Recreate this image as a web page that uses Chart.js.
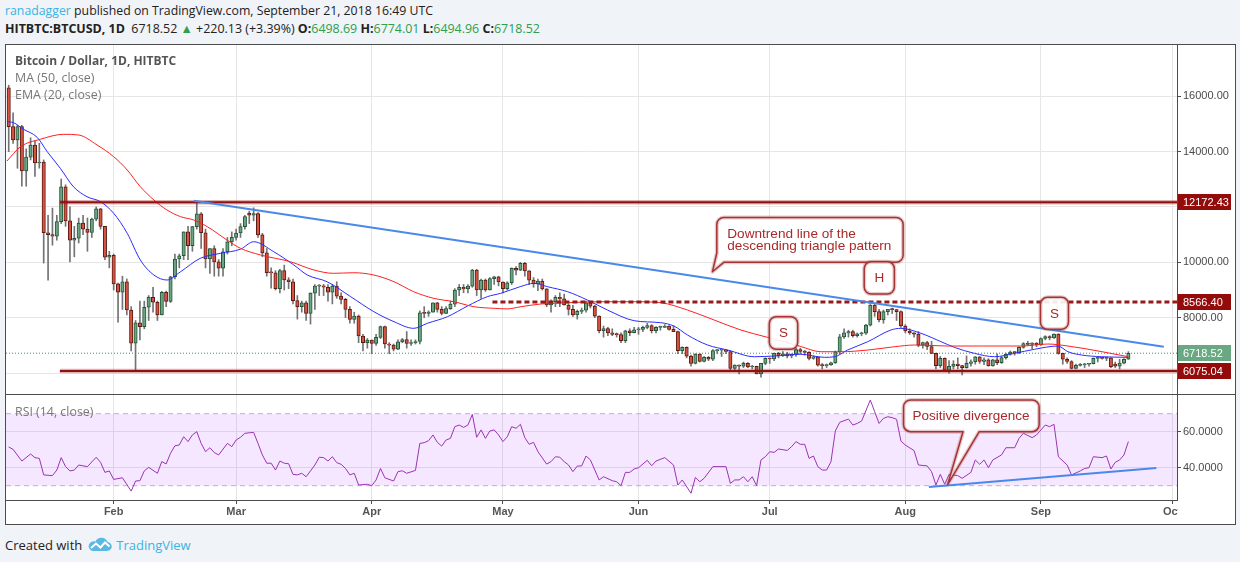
<!DOCTYPE html>
<html><head><meta charset="utf-8">
<script src="https://cdn.jsdelivr.net/npm/chart.js@4.4.1/dist/chart.umd.min.js"></script>
<style>
html,body{margin:0;padding:0;}
body{width:1240px;height:562px;background:#f0f3f7;position:relative;overflow:hidden;font-family:'Open Sans',sans-serif;}
.hdr{position:absolute;left:5px;white-space:nowrap;font-size:12.3px;color:#222;line-height:18px;}
#h1{top:2px;}
#h2{top:20px;font-size:12.45px;}
.blue{color:#3bb3e4;}
.grn{color:#2e9e4f;}
#frame{position:absolute;left:5px;top:44px;width:1229px;height:479px;border:1px solid #4c4c4c;background:#fff;}
#c1{position:absolute;left:6px;top:45px;}
#sep{position:absolute;left:6px;top:394px;width:1229px;height:1px;background:#4c4c4c;}
#c2{position:absolute;left:6px;top:395px;}
.leg{position:absolute;left:15px;font-size:12.4px;color:#777;white-space:nowrap;line-height:17px;}
#footer{position:absolute;left:5px;top:536px;font-size:13px;color:#222;white-space:nowrap;line-height:18px;}
#footer svg{vertical-align:-2px;margin:0 4px 0 6px;}
</style>
</head>
<body>
<div class="hdr" id="h1"><span class="blue">ranadagger</span> published on TradingView.com, September 21, 2018 16:49 UTC</div>
<div class="hdr" id="h2"><b>HITBTC:BTCUSD, 1D</b>&nbsp; 6718.52 <span class="grn">&#9650;</span> +220.13 (+3.39%) <b>O:</b><span class="grn">6498.69</span> <b>H:</b><span class="grn">6774.01</span> <b>L:</b><span class="grn">6494.96</span> <b>C:</b><span class="grn">6718.52</span></div>
<div id="frame"></div>
<canvas id="c1" width="1229" height="349"></canvas>
<div id="sep"></div>
<canvas id="c2" width="1229" height="128"></canvas>
<div class="leg" style="top:52px;font-weight:bold;color:#555;font-size:12px;">Bitcoin / Dollar, 1D, HITBTC</div>
<div class="leg" style="top:69px;">MA (50, close)</div>
<div class="leg" style="top:86px;">EMA (20, close)</div>
<div class="leg" style="top:403px;">RSI (14, close)</div>
<div id="footer">Created with<svg width="24" height="15" viewBox="0 0 24 15"><path d="M4 14 H19 A4.5 4.5 0 0 0 19.5 5 A6.5 6.5 0 0 0 7.5 4.5 A4.8 4.8 0 0 0 4 14 Z" fill="#5ab8e6"/><polyline points="3,11 8,6.5 12.5,10.5 17,5.5 21.5,9.5" stroke="#fff" stroke-width="2" fill="none"/></svg><span class="blue">TradingView</span></div>
<script>
// ---------------- DATA ----------------
const FIRST_DAY = 7; // day index of first candle (Jan 1 2018 = 0) -> Jan 8
const monthTickDays = [31,59,90,120,151,181,212,243,273];
const monthLabels = ['Feb','Mar','Apr','May','Jun','Jul','Aug','Sep','Oct'];
const priceTicks = [6000,8000,10000,12000,14000,16000];
const rsiTicks = [40,60];

const openP = [16300,14900,14420,14900,13300,13800,14240,
13590,13620,11070,11000,10950,11470,12730,
11500,10800,10870,11420,11200,11080,11560,
11930,11300,10190,10250,9220,8920,9300,
8280,7080,7820,7680,8380,8740,8560,
8100,8920,8590,9480,10120,10240,11100,
10600,11290,11750,11070,10120,10500,10020,
9790,10380,10740,10900,11060,11290,11780,
11700,11760,10990,10340,9630,9620,9050,
9700,9365,9300,8615,8400,8540,8160,
8890,9140,9150,9100,8920,9140,8780,
8660,8300,7940,8060,7340,7100,7190,
7070,7290,7680,7050,7010,6860,7130,
7210,7070,7100,7140,8180,8160,8200,
8540,8300,8160,8330,8490,9000,9100,
9040,9140,9720,9000,9360,9000,9410,
9480,9290,9050,9265,9785,9720,9965,
9690,9360,9220,9320,9040,8460,8580,
8740,8680,8460,8300,8100,8230,8270,
8540,8420,8060,7530,7610,7450,7400,
7390,7170,7530,7460,7560,7580,7650,
7720,7530,7650,7650,7700,7580,7500,
6810,6930,6615,6350,6690,6420,6570,
6500,6810,6830,6840,6780,6170,6290,
6250,6350,6220,6240,5970,6350,6530,
6510,6710,6620,6700,6620,6680,6850,
6780,6750,6530,6590,6290,6270,6300,
6370,6770,7310,7450,7500,7350,7420,
7440,7735,8460,8220,7920,8220,8300,
8290,8220,7700,7520,7450,7410,7010,
7100,6960,6710,6270,6530,6110,6240,
6330,6270,6200,6350,6410,6590,6420,
6480,6260,6480,6380,6560,6690,6760,
6740,6930,7070,7040,7080,7020,7250,
7320,7270,7410,6710,6500,6420,6170,
6280,6300,6320,6340,6530,6560,6530,
6550,6330,6250,6360,6498.69];

const highP = [16400,15400,14950,14950,14100,14500,14400,
14300,13700,11700,11960,11700,13010,12800,
12010,11300,11600,11700,11600,11600,12000,
11950,11300,10400,10300,9250,9500,9400,
8400,7900,8600,8600,8800,9100,8600,
8950,8960,9500,10300,10300,11100,11300,
11300,12200,11800,11200,10500,10600,10100,
10500,10900,11100,11200,11400,11700,11850,
11970,11800,11050,10500,9800,9700,9750,
9900,9450,9400,8800,8600,8600,8900,
9200,9200,9200,9200,9200,9300,8900,
8700,8400,8200,8100,7400,7250,7200,
7400,7700,7700,7100,7050,7200,7250,
7500,7200,7200,8250,8400,8250,8540,
8560,8400,8400,8600,9050,9200,9200,
9200,9750,9750,9400,9400,9450,9500,
9500,9300,9300,9800,9850,10000,10000,
9700,9450,9400,9400,9050,8650,8800,
8900,8850,8500,8450,8280,8350,8600,
8600,8450,8070,7700,7650,7600,7450,
7450,7550,7600,7650,7650,7700,7800,
7750,7680,7700,7750,7720,7700,7520,
6950,6950,6650,6700,6700,6600,6600,
6850,6850,6850,6850,6790,6300,6300,
6400,6380,6280,6250,6350,6550,6550,
6720,6750,6780,6750,6700,6900,6900,
6820,6780,6620,6600,6350,6330,6400,
6800,7400,7600,7550,7550,7450,7480,
7760,8480,8500,8300,8280,8300,8350,
8300,8250,7750,7600,7460,7500,7120,
7150,7150,6720,6600,6550,6450,6450,
6550,6280,6620,6480,6600,6600,6550,
6520,6500,6700,6600,6720,6800,6780,
6950,7100,7150,7100,7100,7270,7350,
7350,7420,7420,6720,6550,6450,6330,
6350,6350,6350,6550,6600,6580,6580,
6560,6400,6500,6520,6774.01];

const lowP = [14000,14300,13400,12750,12750,13700,13100,
13400,9975,9360,10620,10800,11400,11300,
10020,10200,10700,11000,10400,10900,11500,
11200,10100,9800,9000,7840,8300,8100,
6800,6075,7200,7600,7900,8200,7900,
8100,8400,8550,9400,9800,10100,10100,
10400,11200,10500,9800,9600,9500,9500,
9500,10300,10600,10800,10900,11200,11400,
11500,10900,10200,9500,9070,9000,8900,
9000,9050,8500,7950,8200,7900,7770,
8300,8800,8800,8600,8500,8700,8500,
8000,7800,7800,7100,6800,6900,6700,
7000,7250,6900,6700,6800,6850,7100,
6900,7000,7050,7050,8000,8050,8200,
8200,8100,8150,8300,8400,8800,8900,
8900,9100,8800,8700,8950,9000,9200,
9150,8900,9000,9200,9550,9700,9500,
9200,9100,8980,9000,8400,8200,8400,
8400,8450,8100,8050,7950,8150,8200,
8350,8000,7450,7300,7350,7350,7300,
7100,7100,7350,7450,7400,7500,7600,
7450,7450,7550,7650,7550,7500,6700,
6700,6550,6250,6330,6400,6400,6450,
6450,6700,6600,6700,6100,6100,5970,
6200,6200,6150,5970,5850,6300,6350,
6450,6550,6600,6550,6550,6600,6700,
6650,6480,6500,6250,6150,6200,6280,
6350,6700,7250,7300,7300,7300,7350,
7400,7700,8050,7850,7800,8100,8150,
7900,7650,7450,7400,7300,6950,6900,
6850,6700,6150,6200,6050,6000,6150,
6150,5930,6180,6250,6320,6350,6300,
6250,6250,6300,6350,6500,6650,6650,
6700,6900,7000,6880,6950,7000,7200,
7200,7250,6680,6320,6350,6150,6150,
6250,6200,6250,6330,6400,6500,6450,
6200,6200,6150,6330,6494.96];

const closeP = [14900,14420,14900,13300,13800,14240,13590,
13620,11070,11000,10950,11470,12730,11500,
10800,10870,11420,11200,11080,11560,11930,
11300,10190,10250,9220,8920,9300,8280,
7080,7820,7680,8380,8740,8560,8100,
8920,8590,9480,10120,10240,11100,10600,
11290,11750,11070,10120,10500,10020,9790,
10380,10740,10900,11060,11290,11650,11700,
11760,10990,10340,9630,9620,9050,9700,
9365,9300,8615,8400,8540,8160,8890,
9140,9150,9100,8920,9140,8780,8660,
8300,7940,8060,7340,7100,7190,7070,
7290,7680,7050,7010,6860,7130,7210,
7070,7100,7140,8180,8160,8200,8540,
8300,8160,8330,8490,9000,9100,9040,
9140,9720,9000,9360,9000,9410,9480,
9290,9050,9265,9785,9720,9965,9690,
9360,9220,9320,9040,8460,8580,8740,
8680,8460,8300,8100,8230,8270,8540,
8420,8060,7530,7610,7450,7400,7390,
7170,7530,7460,7560,7580,7650,7720,
7530,7650,7650,7700,7580,7500,6810,
6930,6615,6350,6690,6420,6570,6500,
6810,6830,6840,6780,6170,6290,6250,
6350,6220,6240,5970,6350,6530,6510,
6710,6620,6700,6620,6680,6850,6780,
6750,6530,6590,6290,6270,6300,6370,
6770,7310,7450,7500,7350,7420,7440,
7735,8460,8220,7920,8220,8300,8290,
8220,7700,7520,7450,7410,7010,7100,
6960,6710,6270,6530,6110,6240,6330,
6270,6200,6350,6410,6590,6420,6480,
6260,6480,6380,6560,6690,6760,6740,
6930,7070,7040,7080,7020,7250,7320,
7270,7410,6710,6500,6420,6170,6280,
6300,6320,6340,6530,6560,6530,6550,
6230,6250,6360,6500,6718.52];

// MA(50) (day index, price)
const maDays = [6.6,9.7,14.2,19.6,23,27.2,31,34.1,37.1,40.2,
43.2,46.3,49.3,52.4,56.9,60,64.6,71.4,76.8,81.3,
85.9,90.5,95.1,99.6,104.2,108.8,113.4,118,121,124.1,
128.6,134.8,142.4,150,156.1,162.2,168.3,174.4,180.5,185.1,
188.1,192.7,197.3,203.4,209.5,214.1,221.7,229.6,238.5,244.6,
249.2,257,263];
const maVals = [13660,14177,14444,14625,14600,14240,13816,13335,12732,12252,
11890,11650,11530,11290,10807,10507,10265,10023,9723,9604,
9625,9542,9300,8939,8700,8578,8397,8340,8320,8397,
8495,8542,8578,8578,8542,8278,7917,7556,7292,7097,
6960,6772,6772,6833,6952,7014,6978,6978,6978,7050,
6978,6772,6591];

// EMA(20)
const emaDays = [6.6,8.1,10.4,13.5,15.8,18.8,21.8,24.9,28,31,
34.1,37.1,40.2,43.2,46.3,50.8,55.4,60,63,67.6,
72.2,75.3,79.8,85.2,90.5,95.1,99.6,102.7,107.3,111.9,
116.4,119.5,124.1,127.1,130.2,134.8,139.3,143.9,150,156.1,
159.1,162.2,166.8,171.4,177.5,182,188.1,193.5,195.8,198.8,
203.4,208.7,211,215.6,220.2,223.2,227.8,232.4,237,241.5,
246.9,249.2,252.3,256.9,263];
const emaVals = [15080,15044,14805,14516,14000,13397,12732,12371,12190,11771,
11049,10084,9542,9362,9662,10146,10326,10476,10745,10384,
9904,9542,9300,8759,8217,7856,7617,7798,8036,8423,
8759,8881,9130,9242,9120,8939,8640,8278,7892,7820,
7700,7375,7014,6833,6591,6616,6680,6570,6591,6833,
7133,7556,7617,7436,7133,6931,6714,6591,6714,6859,
6978,6772,6653,6591,6570];

// RSI(14)
const rsiDays = [7,8,10,12,13,14,15,17,18,19,
20,21,22,23,25,27,28,29,30,31,
33,35,36,37,38,39,41,42,43,44,
45,46,47,48,49,50,51,52,53,54,
55,57,58,59,60,61,62,63,64,65,
66,67,68,69,70,71,72,73,74,75,
76,77,78,79,80,81,82,83,84,85,
86,87,89,90,91,92,93,95,96,97,
98,100,101,102,103,104,105,106,107,108,
109,110,111,112,113,114,115,116,117,118,
119,120,121,122,123,124,125,126,127,128,
130,131,132,133,134,135,136,137,138,139,
140,142,143,145,146,147,148,149,150,151,
153,154,155,157,159,160,161,163,164,165,
166,168,171,172,173,174,175,176,177,178,
179,180,181,182,183,185,186,187,188,189,
190,191,192,193,194,195,196,197,199,200,
201,202,204,205,206,207,208,209,210,211,
212,214,215,217,218,219,220,221,222,224,
225,227,228,229,230,231,232,234,235,237,
238,239,241,242,244,245,246,247,249,250,
252,253,254,255,257,258,259,260,261,262,
263];
const rsiVals = [51.5,50.2,43.7,47.6,45.6,45.2,36,35.6,38.7,45.6,
40.6,38.2,38.7,41.5,40.6,45.8,43,37.4,38.2,33.5,
34.4,27,32.6,32.8,38.2,40.2,36.9,43.4,42.1,48,
52.2,52.6,57.2,54.5,58.2,60,53.5,48.9,51.1,48.4,
47.1,53.5,51.7,55.4,56.9,59.1,59.4,59.6,53.5,47.1,
42.5,42.5,38.7,43.7,42.5,42.2,36.3,36,36.9,35,
38.2,41.5,45.8,45.6,43.7,46.1,42.8,41.9,39.6,36,
36.9,30.4,30.8,30,33.2,39.6,34.4,32.6,37.8,38.3,
36.9,38.5,53.5,53.9,55,58.2,54.1,52,55.4,56.3,
62.8,63.7,62.4,63.7,69.6,56.9,61,56.3,60.4,61,
58.2,54.5,57.2,62.8,61.9,64.1,56.7,53,54.1,48.9,
42,43.4,46.1,45.8,43.4,41.5,37.8,40.9,41,46.5,
44.3,33.2,35,32.8,32.2,30,37.4,37.4,39.3,40,
44.1,41.1,43.7,45.6,41.5,30.4,33.2,25.8,34.6,32.2,
34.1,40.6,40.6,31.3,33.2,33.2,35,32.2,35,30,
44.3,46.1,48.9,48.5,50.4,49.6,51.7,54.5,53,53,
45.2,46.5,40.6,38.7,38.7,43.3,60.4,65.2,67,63.7,
64.6,65.9,77.6,71.1,64.6,67.4,68.3,67.8,66.9,54.8,
52.6,49.5,41.5,41,37.8,30.4,36.3,30.8,36.3,35.6,
34.1,37.4,44.3,41.9,44.3,40,44.3,47.1,51.1,51.1,
56.3,59.1,56.7,58.2,63.7,62.8,64.1,46.1,41.5,36,
38.2,39.6,40,46.1,45.6,46.5,39.3,43,44.3,47.1,
54.5];

const resistanceLevel = 12172.43;
const necklineLevel = 8566.40;
const supportLevel = 6075.04;
const lastPrice = 6718.52;
const rsiUpper = 70, rsiLower = 30;

// ---------------- LAYOUT / STYLE ----------------
const X_MIN = 6.38, X_MAX = 274.12;
const AXIS_W = 58;
const GRID = '#e6e6e6';
const FRAME = '#4c4c4c';
const UP_FILL = '#6ba583', UP_BORDER = '#225437', DN_FILL = '#d75442', DN_BORDER = '#5b1a13', WICK = '#737375';
const LEVEL_RED = '#8e1212';
const TREND_BLUE = '#4a89ea';
const NOTE_RED = '#a82a2a';
Chart.defaults.font.family = '"Liberation Sans", Arial, sans-serif';

const levelStartDay = 18.7;
const necklineStartDay = 117.6;
const trendLine = [{x:49.3, y:12226}, {x:271.1, y:6952}];
const rsiTrendLine = [{x:217.4, y:29.3}, {x:269.4, y:39.8}];

const priceNotes = [
  {lines:['Downtrend line of the','descending triangle pattern'], x0:168.9, x1:211.5, y0:11620, y1:10000, size:13.6, align:'left', padX:10.5, lh:11.5,
   wedge:{type:'corner', edgeY:10337, baseX:170.5, tip:[167.9, 9662]}},
  {lines:['H'], x0:202.6, x1:209.5, y0:10023, y1:8856, size:13.5},
  {lines:['S'], x0:180.9, x1:187.4, y0:8036, y1:6858, size:13.5},
  {lines:['S'], x0:242.9, x1:249.3, y0:8737, y1:7581, size:13.5}
];
const rsiNotes = [
  {lines:['Positive divergence'], x0:211.6, x1:242.6, y0:77.6, y1:60, size:13.5, align:'left', padX:9,
   wedge:{type:'bottom', bx0:225.2, bx1:228.9, tip:[221.7, 30.8]}}
];
const priceBadges = [
  {v:resistanceLevel, bg:'#940b0b'},
  {v:necklineLevel, bg:'#940b0b'},
  {v:lastPrice, bg:'#6aa783'},
  {v:supportLevel, bg:'#940b0b'}
];

// ---------------- HELPERS ----------------
function fixY(s){ s.width = AXIS_W; s.paddingTop = 0; s.paddingBottom = 0; s.paddingLeft = 0; s.paddingRight = 0; }
function fixX(h){ return s => { s.height = h; s.paddingLeft = 0; s.paddingRight = 0; s.paddingTop = 0; s.paddingBottom = 0; }; }
function lineDS(points, color, width, extra){
  return Object.assign({type:'line', data:points, borderColor:color, borderWidth:width, pointRadius:0, pointHoverRadius:0, fill:false, tension:0, order:0}, extra || {});
}
function hLine(day0, value){ return [{x:day0, y:value}, {x:X_MAX, y:value}]; }

function drawNotes(chart, notes){
  const ctx = chart.ctx, xs = chart.scales.x, ys = chart.scales.y;
  notes.forEach(n => {
    const x0 = xs.getPixelForValue(n.x0), x1 = xs.getPixelForValue(n.x1);
    const y0 = ys.getPixelForValue(n.y0), y1 = ys.getPixelForValue(n.y1);
    const r = 7;
    ctx.save();
    ctx.beginPath();
    ctx.moveTo(x0 + r, y0);
    ctx.arcTo(x1, y0, x1, y1, r);
    if (n.wedge && n.wedge.type === 'bottom') {
      const w = n.wedge;
      ctx.arcTo(x1, y1, x0, y1, r);
      ctx.lineTo(xs.getPixelForValue(w.bx1), y1);
      ctx.lineTo(xs.getPixelForValue(w.tip[0]), ys.getPixelForValue(w.tip[1]));
      ctx.lineTo(xs.getPixelForValue(w.bx0), y1);
      ctx.arcTo(x0, y1, x0, y0, r);
      ctx.arcTo(x0, y0, x1, y0, r);
    } else if (n.wedge && n.wedge.type === 'corner') {
      const w = n.wedge;
      ctx.arcTo(x1, y1, x0, y1, r);
      ctx.lineTo(xs.getPixelForValue(w.baseX), y1);
      ctx.lineTo(xs.getPixelForValue(w.tip[0]), ys.getPixelForValue(w.tip[1]));
      ctx.lineTo(x0, ys.getPixelForValue(w.edgeY));
      ctx.arcTo(x0, y0, x1, y0, r);
    } else {
      ctx.arcTo(x1, y1, x0, y1, r);
      ctx.arcTo(x0, y1, x0, y0, r);
      ctx.arcTo(x0, y0, x1, y0, r);
    }
    ctx.closePath();
    ctx.fillStyle = 'rgba(255,255,255,0.9)';
    ctx.fill();
    ctx.lineJoin = 'round';
    ctx.lineWidth = 4;
    ctx.strokeStyle = 'rgba(165,45,45,0.25)';
    ctx.stroke();
    ctx.lineWidth = 1.5;
    ctx.strokeStyle = '#a33434';
    ctx.stroke();
    ctx.fillStyle = NOTE_RED;
    ctx.font = n.size + 'px "Liberation Sans", Arial, sans-serif';
    ctx.textBaseline = 'middle';
    const left = n.align === 'left';
    ctx.textAlign = left ? 'left' : 'center';
    const tx = left ? x0 + n.padX : (x0 + x1) / 2;
    const cy = (y0 + y1) / 2, lh = n.lh || 13;
    n.lines.forEach((t, i) => ctx.fillText(t, tx, cy + 0.5 + (i - (n.lines.length - 1) / 2) * lh));
    ctx.restore();
  });
}

// ---------------- PRICE PANE ----------------
const candleDays = openP.map((_, i) => FIRST_DAY + i);
const wickData = candleDays.map((d, i) => ({x:d, y:[lowP[i], highP[i]]}));
const bodyData = candleDays.map((d, i) => ({x:d, y:[openP[i], closeP[i]]}));
const maData = maDays.map((d, i) => ({x:d, y:maVals[i]}));
const emaData = emaDays.map((d, i) => ({x:d, y:emaVals[i]}));
const isUp = c => c.raw && c.raw.y[1] >= c.raw.y[0];

new Chart(document.getElementById('c1'), {
  type:'bar',
  data:{datasets:[
    {type:'bar', label:'wick', data:wickData, grouped:false, barThickness:1, backgroundColor:WICK, borderWidth:0, order:5},
    {type:'bar', label:'body', data:bodyData, grouped:false, barThickness:3.4, borderWidth:1, borderSkipped:false, minBarLength:1,
     backgroundColor: c => isUp(c) ? UP_FILL : DN_FILL, borderColor: c => isUp(c) ? UP_BORDER : DN_BORDER, order:4},
    lineDS(hLine(X_MIN, lastPrice), '#3f8a5c', 1, {borderDash:[1,2], order:6}),
    lineDS(maData, '#ff2020', 1, {order:3, cubicInterpolationMode:'monotone'}),
    lineDS(emaData, '#2b2bff', 1, {order:3, cubicInterpolationMode:'monotone'}),
    lineDS(hLine(levelStartDay, resistanceLevel), 'rgba(160,30,30,0.35)', 4.5, {order:2}),
    lineDS(hLine(levelStartDay, resistanceLevel), LEVEL_RED, 2, {order:1}),
    lineDS(hLine(levelStartDay, supportLevel), 'rgba(160,30,30,0.35)', 4.5, {order:2}),
    lineDS(hLine(levelStartDay, supportLevel), LEVEL_RED, 2, {order:1}),
    lineDS(hLine(necklineStartDay, necklineLevel), '#951a1a', 3, {borderDash:[5,3], order:1}),
    lineDS(trendLine, TREND_BLUE, 2, {order:0})
  ]},
  options:{
    responsive:false, animation:false, events:[],
    layout:{padding:0},
    plugins:{legend:{display:false}, tooltip:{enabled:false}},
    scales:{
      x:{type:'linear', min:X_MIN, max:X_MAX, offset:false,
         afterBuildTicks: s => { s.ticks = monthTickDays.map(v => ({value:v})); },
         afterFit: fixX(0),
         ticks:{display:false}, grid:{color:GRID, drawTicks:false, offset:false}, border:{display:false}},
      y:{position:'right', min:5245, max:17851,
         afterBuildTicks: s => { s.ticks = priceTicks.map(v => ({value:v})); },
         afterFit: fixY,
         ticks:{callback: v => Number(v).toFixed(2), color:'#4a4a4a', font:{size:11}, padding:2},
         grid:{color:GRID, tickLength:4, tickColor:FRAME},
         border:{color:FRAME}}
    }
  },
  plugins:[{
    id:'priceDecor',
    afterDatasetsDraw(chart){ drawNotes(chart, priceNotes); },
    afterDraw(chart){
      const ctx = chart.ctx, a = chart.chartArea, ys = chart.scales.y;
      ctx.save();
      priceBadges.forEach(b => {
        const yy = Math.round(ys.getPixelForValue(b.v));
        ctx.fillStyle = b.bg;
        ctx.fillRect(a.right + 1, yy - 8, 53, 16);
        ctx.fillStyle = '#fff';
        ctx.font = '11px "Liberation Sans", Arial, sans-serif';
        ctx.textAlign = 'left';
        ctx.textBaseline = 'middle';
        ctx.fillText(b.v.toFixed(2), a.right + 6, yy + 0.5);
      });
      ctx.restore();
    }
  }]
});

// ---------------- RSI PANE ----------------
const rsiData = rsiDays.map((d, i) => ({x:d, y:rsiVals[i]}));
new Chart(document.getElementById('c2'), {
  type:'line',
  data:{datasets:[
    lineDS(hLine(X_MIN, rsiUpper), '#bcb2c8', 1, {borderDash:[5,4], order:3}),
    lineDS(hLine(X_MIN, rsiLower), '#bcb2c8', 1, {borderDash:[5,4], order:3, fill:'-1', backgroundColor:'rgba(153,21,255,0.1)'}),
    lineDS(rsiData, '#9b33b3', 1, {order:1}),
    lineDS(rsiTrendLine, TREND_BLUE, 2, {order:0})
  ]},
  options:{
    responsive:false, animation:false, events:[],
    layout:{padding:0},
    plugins:{legend:{display:false}, tooltip:{enabled:false}},
    scales:{
      x:{type:'linear', min:X_MIN, max:X_MAX, offset:false,
         afterBuildTicks: s => { s.ticks = monthTickDays.map(v => ({value:v})); },
         afterFit: fixX(23),
         ticks:{callback:(v, i) => monthLabels[i], color:'#555', font:{size:11, weight:'bold'}, padding:1, maxRotation:0, autoSkip:false},
         grid:{color:GRID, tickLength:4, tickColor:FRAME},
         border:{color:FRAME}},
      y:{position:'right', min:22.06, max:80.39,
         afterBuildTicks: s => { s.ticks = rsiTicks.map(v => ({value:v})); },
         afterFit: fixY,
         ticks:{callback: v => Number(v).toFixed(4), color:'#4a4a4a', font:{size:11}, padding:2},
         grid:{color:GRID, tickLength:4, tickColor:FRAME},
         border:{color:FRAME}}
    }
  },
  plugins:[{
    id:'rsiDecor',
    afterDatasetsDraw(chart){ drawNotes(chart, rsiNotes); },
    afterDraw(chart){
      const ctx = chart.ctx, a = chart.chartArea;
      ctx.save();
      ctx.fillStyle = '#fff';
      ctx.fillRect(a.right + 1, a.bottom + 1, chart.width - a.right, chart.height - a.bottom);
      ctx.restore();
    }
  }]
});
</script>
</body></html>
